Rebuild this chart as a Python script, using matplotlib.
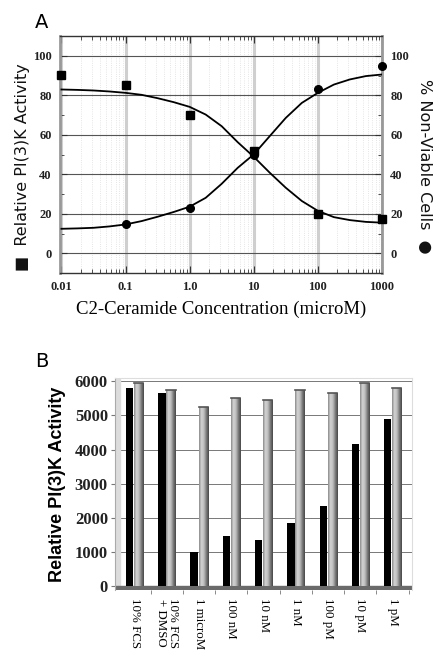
import numpy as np
import matplotlib
matplotlib.use('Agg')
import matplotlib.pyplot as plt
from matplotlib.colors import LinearSegmentedColormap
from matplotlib.patches import Rectangle

# panel A: measured points
conc_sq = [0.01, 0.1, 1.0, 10, 100, 1000]
pi3k_act = [90.6, 85.5, 70, 51.8, 20, 17.5]
conc_circ = [0.1, 1.0, 10, 100, 1000]
nonviable = [14.6, 23.1, 50, 83.3, 95.1]

# panel A: fitted curves (quarter decades)
curve_x = [0.01, 0.0178, 0.0316, 0.0562, 0.1, 0.178, 0.316, 0.562, 1.0, 1.78, 3.16,
           5.62, 10, 17.8, 31.6, 56.2, 100, 178, 316, 562, 1000]
curve_down = [83.0, 82.8, 82.5, 82.0, 81.3, 80.3, 78.6, 76.6, 74.2, 70.3, 64.4,
              56.3, 48.9, 40.8, 33.2, 26.5, 21.5, 18.3, 16.8, 15.9, 15.5]
curve_up = [12.4, 12.6, 12.9, 13.6, 14.6, 16.3, 18.5, 20.9, 23.6, 28.1, 35.2,
            43.3, 50.1, 59.4, 68.6, 76.2, 81.3, 85.5, 88.1, 89.8, 90.6]
xtick_vals = [0.01, 0.1, 1.0, 10, 100, 1000]
xtick_text = ['0.01', '0.1', '1.0', '10', '100', '1000']

# panel B
groups = ['10% FCS', '10% FCS\n+ DMSO', '1 microM', '100 nM', '10 nM',
          '1 nM', '100 pM', '10 pM', '1 pM']
black_vals = [5800, 5650, 1000, 1450, 1350, 1850, 2350, 4150, 4900]
gray_vals = [5950, 5750, 5250, 5500, 5450, 5750, 5650, 5950, 5800]


def panel_a(fig):
    ax = fig.add_axes([0.138, 0.5826, 0.740, 0.362])
    ax.set_xscale('log')
    ax.set_xlim(0.0095, 1000)
    ax.set_ylim(-10, 110)

    ax.grid(True, which='major', axis='x', color='#cfcfcf', lw=2.2, zorder=0)
    ax.grid(True, which='minor', axis='x', color='#dddddd', lw=0.6, ls=':', zorder=0)
    ax.grid(True, which='major', axis='y', color='#555555', lw=0.8, zorder=0)

    ax.plot(curve_x, curve_down, color='black', lw=1.3, zorder=3,
            solid_joinstyle='round')
    ax.plot(curve_x, curve_up, color='black', lw=1.3, zorder=3,
            solid_joinstyle='round')
    ax.plot(conc_sq, pi3k_act, 's', color='black', ms=5.5, zorder=4, clip_on=False)
    ax.plot(conc_circ, nonviable, 'o', color='black', ms=5.5, zorder=4, clip_on=False)

    ax.set_yticks([0, 20, 40, 60, 80, 100])
    ax.set_yticks([-10, 10, 30, 50, 70, 90, 110], minor=True)
    ax.set_xticks(xtick_vals)
    ax.set_xticklabels(xtick_text)
    ax.tick_params(which='both', direction='in', top=True, right=True,
                   labelright=True, color='#333333')
    ax.tick_params(which='major', length=5, width=0.8, pad=6)
    ax.tick_params(which='minor', length=3, width=0.6)
    for lab in ax.get_xticklabels() + ax.get_yticklabels():
        lab.set_fontfamily('Liberation Serif')
        lab.set_fontweight('bold')
        lab.set_fontsize(9)
        lab.set_color('#222222')
    for s in ax.spines.values():
        s.set_color('#333333')
        s.set_linewidth(1.0)
    ax.spines['left'].set_linewidth(2.0)
    ax.spines['left'].set_color('#999999')
    ax.spines['right'].set_linewidth(2.0)
    ax.spines['right'].set_color('#999999')

    ax.set_xlabel('C2-Ceramide Concentration (microM)', family='Liberation Serif',
                  fontsize=13.5, labelpad=5)
    fig.text(0.052, 0.745, '\u25a0  Relative PI(3)K Activity', rotation=90,
             ha='center', va='center', fontsize=11.5, family='DejaVu Sans',
             color='#111111')
    fig.text(0.975, 0.745, '% Non-Viable Cells  \u25cf', rotation=270,
             ha='center', va='center', fontsize=11.5, family='DejaVu Sans',
             color='#111111')
    fig.text(0.095, 0.965, 'A', fontsize=14, family='DejaVu Sans', ha='center', va='center')


def panel_b(fig):
    ax = fig.add_axes([0.264, 0.098, 0.683, 0.324])
    x = np.arange(len(groups))

    ax.yaxis.grid(True, color='#777777', lw=0.7, zorder=0)
    ax.set_axisbelow(True)

    ax.bar(x - 0.15, black_vals, width=0.23, color='black', zorder=3)
    bars = ax.bar(x + 0.13, gray_vals, width=0.29, color='#b0b0b0', zorder=3)

    cmap = LinearSegmentedColormap.from_list(
        'cyl', ['#8a8a8a', '#d4d4d4', '#bdbdbd', '#7a7a7a', '#474747'])
    grad = np.linspace(0, 1, 64).reshape(1, -1)
    for b in bars:
        x0, w, h = b.get_x(), b.get_width(), b.get_height()
        im = ax.imshow(grad, cmap=cmap, aspect='auto', extent=[x0, x0 + w, 0, h],
                       zorder=4)
        im.set_clip_path(b)
        ax.plot([x0, x0 + w], [h, h], color='#555555', lw=1.2, zorder=5)
    ax.set_xlim(-0.61, 8.6)
    ax.set_ylim(-120, 6100)

    # floor and left wall
    ax.axhspan(-120, 0, color='#6a6a6a', zorder=2)
    ax.add_patch(Rectangle((0, 0), 0.018, 1, transform=ax.transAxes,
                           color='#dcdcdc', zorder=1))

    ax.set_yticks([0, 1000, 2000, 3000, 4000, 5000, 6000])
    ax.set_xticks(x)
    ax.set_xticklabels(groups, rotation=270, family='Liberation Serif', fontsize=9.3,
                       va='top', ha='center', linespacing=1.0)
    ax.set_xticks(x + 0.5, minor=True)
    ax.tick_params(axis='x', which='major', length=0, pad=6)
    ax.tick_params(axis='x', which='minor', length=3, color='#777777')
    ax.tick_params(axis='y', length=3, color='#777777', pad=2)
    for lab in ax.get_yticklabels():
        lab.set_fontfamily('Liberation Serif')
        lab.set_fontweight('bold')
        lab.set_fontsize(12)
        lab.set_color('#222222')
    for s in ['top', 'right']:
        ax.spines[s].set_color('#dddddd')
    ax.spines['left'].set_color('#aaaaaa')
    ax.spines['bottom'].set_visible(False)

    ax.set_ylabel('Relative PI(3)K Activity', family='Liberation Sans',
                  fontweight='bold', fontsize=13, labelpad=6)
    fig.text(0.097, 0.447, 'B', fontsize=14, family='DejaVu Sans', ha='center', va='center')


def main():
    fig = plt.figure(figsize=(4.35, 6.54), dpi=100)
    panel_a(fig)
    panel_b(fig)
    plt.savefig('out.png', dpi=100)


if __name__ == '__main__':
    main()
